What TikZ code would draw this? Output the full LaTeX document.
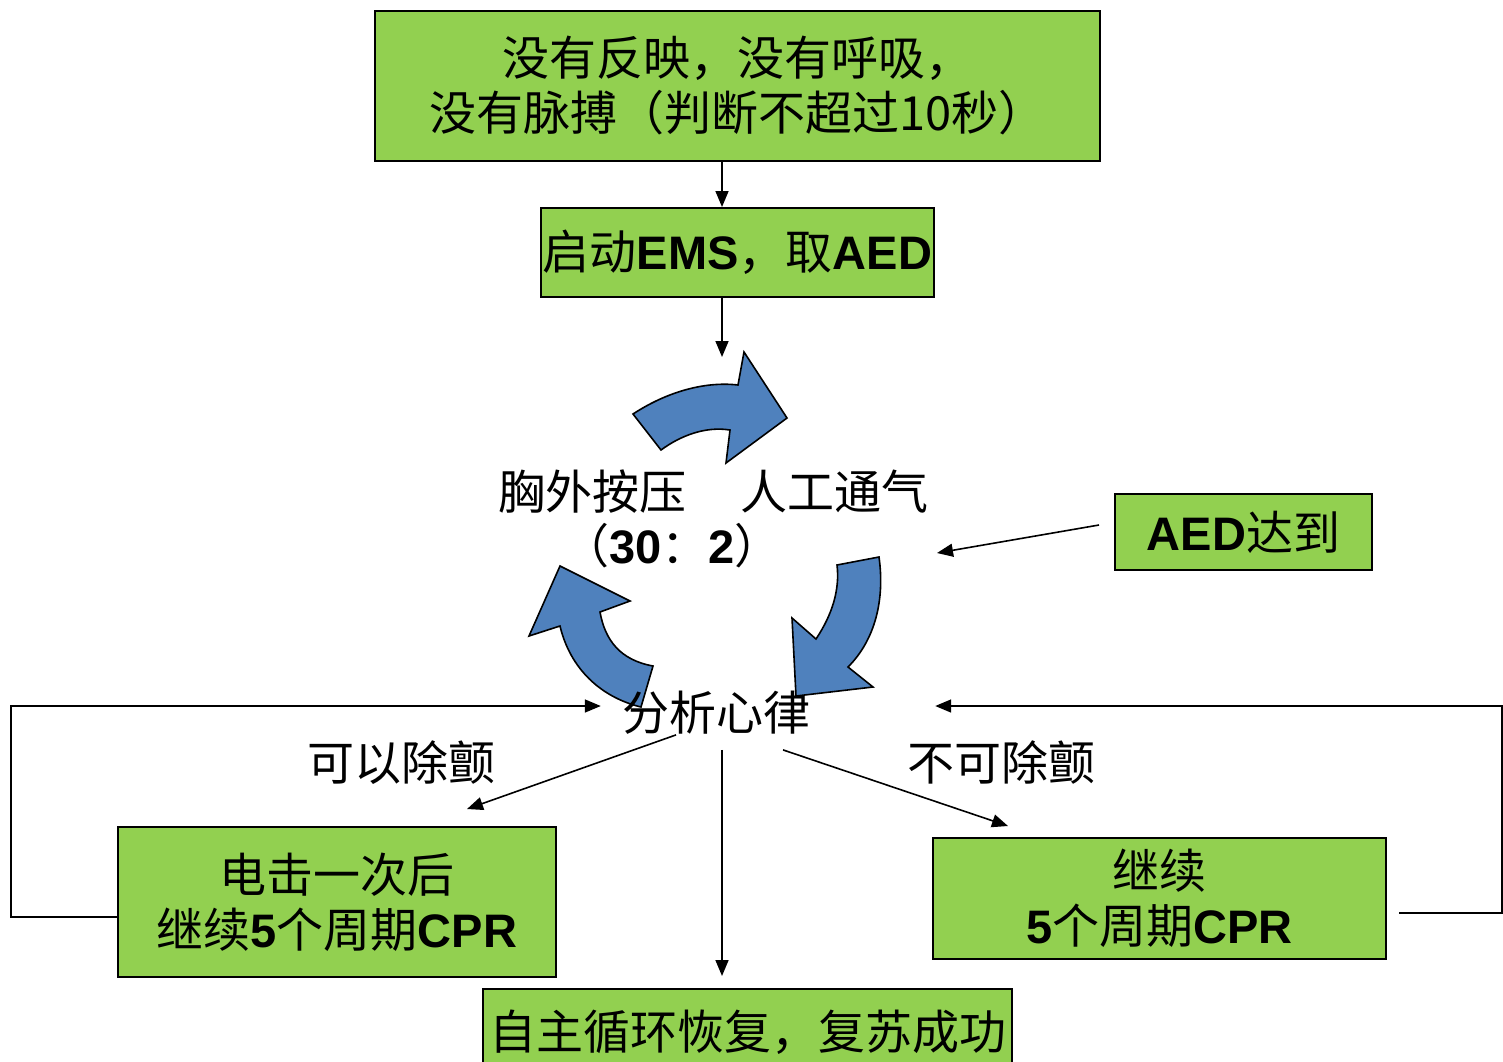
\documentclass[tikz,border=0pt]{standalone}
\usepackage{fontspec}
\setmainfont{Noto Sans CJK SC}
\newfontfamily\arialfam{Liberation Sans}
\usetikzlibrary{arrows.meta}
\newcommand\latb[1]{{\arialfam\bfseries #1}}
\definecolor{boxgreen}{HTML}{92D050}
\definecolor{cycblue}{HTML}{4F81BD}
\begin{document}
\begin{tikzpicture}[x=1pt,y=-1pt,
  font=\fontsize{47}{55}\selectfont,
  box/.style={draw=black, line width=2pt, fill=boxgreen, inner sep=0pt, align=center},
  lbl/.style={inner sep=0pt, align=center},
  arr/.style={line width=1.6pt, -{Triangle[length=16pt,width=13pt]}},
  cyc/.style={fill=cycblue, draw=black, line width=1.6pt, line join=miter}]
\useasboundingbox (0,0) rectangle (1503,1061);
\fill[white] (0,0) rectangle (1503,1061);

% boxes
\node[box, minimum width=725pt, minimum height=150pt] (top) at (737.5,86) {没有反映，没有呼吸，\\没有脉搏（判断不超过10秒）};
\node[box, minimum width=393pt, minimum height=89pt] (ems) at (737.5,252.5) {启动\latb{EMS}，取\latb{AED}};
\node[box, minimum width=257pt, minimum height=76pt] (aed) at (1243.5,532) {\latb{AED}达到};
\node[box, minimum width=438pt, minimum height=150pt] (shock) at (337,902) {电击一次后\\继续\latb{5}个周期\latb{CPR}};
\node[box, minimum width=453pt, minimum height=121pt] (cont) at (1159.5,898.5) {继续\\\latb{5}个周期\latb{CPR}};
\node[box, minimum width=529pt, minimum height=86pt] (rosc) at (747.5,1032) {自主循环恢复，复苏成功};

% cycle arrows
\draw[cyc] (633,414) .. controls (665,393) and (703,381) .. (738,385) -- (744,352) -- (787,418) -- (726,463) -- (730,430)
  .. controls (705,426) and (680,436) .. (661,450) -- cycle;
\draw[cyc] (879,557) .. controls (885,600) and (875,640) .. (848,667) -- (873,687) -- (796,696) -- (792,618) -- (816,639)
  .. controls (832,615) and (840,590) .. (837,565) -- cycle;
\draw[cyc] (641,707) .. controls (600,697) and (570,668) .. (560,626) -- (529,636) -- (560,566) -- (630,601) -- (600,612)
  .. controls (605,640) and (620,660) .. (653,666) -- cycle;

% labels
\node[lbl] (cpr) at (714,492) {胸外按压\hspace{1.15em}人工通气};
\node[lbl] (ratio) at (672,546) {（\latb{30}：\latb{2}）};
\node[lbl] (ana) at (716,713) {分析心律};
\node[lbl] (yes) at (401,763) {可以除颤};
\node[lbl] (no) at (1001,763) {不可除颤};

% connectors
\coordinate (cyctop) at (722,357);
\coordinate (aedin) at (937,553);
\draw[arr] ([shift={(-15.5,0)}]top.south) -- ([shift={(-15.5,0)}]ems.north);
\draw[arr] ([shift={(-15.5,0)}]ems.south) -- (cyctop);
\draw[arr] ([shift={(-15,-7)}]aed.west) -- (aedin);
\draw[arr] ([shift={(-40,0)}]ana.south) -- ([shift={(130,-17)}]shock.north);
\draw[arr] ([shift={(6,15)}]ana.south) -- ([shift={(-25.5,-12)}]rosc.north);
\draw[arr] ([shift={(67,15)}]ana.south) -- ([shift={(-151.5,-11)}]cont.north);
\draw[arr] ([shift={(0,15)}]shock.west) -- ++(-106,0) |- ([shift={(-21,-7)}]ana.west);
\draw[arr] ([shift={(12,14.5)}]cont.east) -- ++(103,0) |- ([shift={(125,-7)}]ana.east);
\end{tikzpicture}
\end{document}
